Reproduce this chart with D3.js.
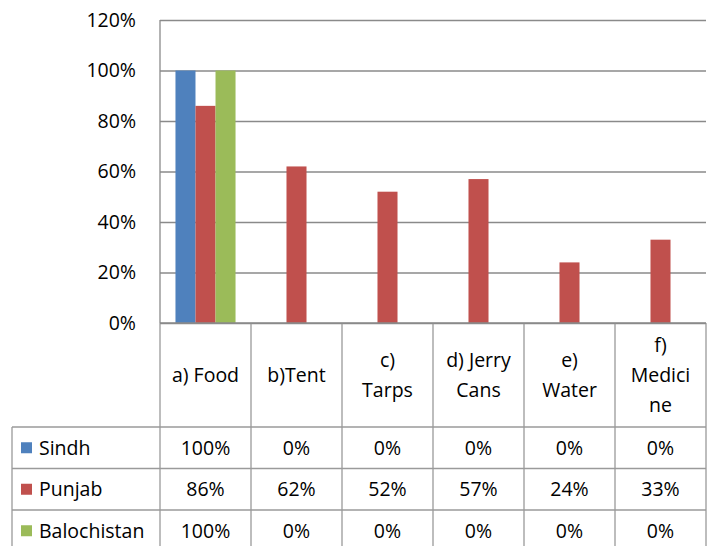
<!DOCTYPE html>
<html>
<head>
<meta charset="utf-8">
<script src="https://cdn.jsdelivr.net/npm/d3@7"></script>
<style>
  body { margin: 0; background: #fff; }
  svg { display: block; font-family: "Open Sans", Lato, sans-serif; }
</style>
</head>
<body>
<div id="chart"></div>
<script>
// データ
var categories = [ "a) Food", "b)Tent", "c) Tarps", "d) Jerry Cans", "e) Water", "f) Medicine" ];
var headerLines = [ [ "a) Food" ], [ "b)Tent" ], [ "c)", "Tarps" ], [ "d) Jerry", "Cans" ], [ "e)", "Water" ], [ "f)", "Medici", "ne" ] ];
var seriesNames = [ "Sindh", "Punjab", "Balochistan" ];
var sindh = [ 1.00, 0, 0, 0, 0, 0 ];
var punjab = [ 0.86, 0.62, 0.52, 0.57, 0.24, 0.33 ];
var balochistan = [ 1.00, 0, 0, 0, 0, 0 ];
var seriesColors = [ "#4F81BD", "#C0504D", "#9BBB59" ];
var yTicks = [ 0, 0.2, 0.4, 0.6, 0.8, 1.0, 1.2 ];

var seriesValues = [ sindh, punjab, balochistan ];

var width = 714, height = 546;
var plot = { left: 160, right: 706, top: 20, bottom: 323 };
var table = { left: 12, headerBottom: 427, rowH: 41.5 };
var fontSize = "19.5px";

var svg = d3.select( "#chart" ).append( "svg" )
  .attr( "width", width )
  .attr( "height", height );

var x = d3.scaleBand().domain( categories ).range( [ plot.left, plot.right ] ).padding( 0 );
var xSub = d3.scaleBand().domain( seriesNames )
  .range( [ x.bandwidth() * 0.17, x.bandwidth() * 0.83 ] ).padding( 0 );
var y = d3.scaleLinear().domain( [ 0, 1.2 ] ).range( [ plot.bottom, plot.top ] );
var pct = d3.format( ".0%" );

drawGrid();
drawBars();
drawTable();

function drawGrid() {
  // 目盛り線
  var yAxis = d3.axisLeft( y )
    .tickValues( yTicks )
    .tickFormat( pct )
    .tickSize( -( plot.right - plot.left ) )
    .tickPadding( 24 );
  var g = svg.append( "g" )
    .attr( "transform", "translate(" + plot.left + ",0)" )
    .call( yAxis );
  g.select( ".domain" ).remove();
  g.selectAll( ".tick line" )
    .attr( "stroke", "#8a8a8a" )
    .attr( "stroke-width", 1.3 );
  g.selectAll( ".tick text" )
    .attr( "fill", "#000" )
    .attr( "font-size", fontSize )
    .attr( "font-family", "'Open Sans', sans-serif" );

  // 縦軸
  svg.append( "line" )
    .attr( "x1", plot.left ).attr( "x2", plot.left )
    .attr( "y1", plot.top ).attr( "y2", plot.bottom )
    .attr( "stroke", "#8a8a8a" )
    .attr( "stroke-width", 1.3 );
}

function drawBars() {
  seriesNames.forEach( function ( name, si ) {
    svg.append( "g" )
      .selectAll( "rect" )
      .data( seriesValues[ si ] )
      .enter()
      .append( "rect" )
      .attr( "x", function ( d, i ) {
        return x( categories[ i ] ) + xSub( name );
      } )
      .attr( "y", function ( d ) {
        return y( d );
      } )
      .attr( "width", xSub.bandwidth() )
      .attr( "height", function ( d ) {
        return y( 0 ) - y( d );
      } )
      .attr( "fill", seriesColors[ si ] );
  } );
}

function drawTable() {
  var lineColor = "#9a9a9a";
  var bottom = height + 2;

  // 縦線（カテゴリ境界）
  var bounds = categories.map( function ( c ) {
    return x( c );
  } );
  bounds.push( plot.right );
  svg.append( "g" )
    .selectAll( "line" )
    .data( bounds )
    .enter()
    .append( "line" )
    .attr( "x1", function ( d ) { return d; } )
    .attr( "x2", function ( d ) { return d; } )
    .attr( "y1", plot.bottom )
    .attr( "y2", bottom )
    .attr( "stroke", lineColor )
    .attr( "stroke-width", 1.3 );

  // 左端
  svg.append( "line" )
    .attr( "x1", table.left ).attr( "x2", table.left )
    .attr( "y1", table.headerBottom ).attr( "y2", bottom )
    .attr( "stroke", lineColor )
    .attr( "stroke-width", 1.3 );

  // 横線
  var rowLines = seriesNames.map( function ( s, i ) {
    return table.headerBottom + i * table.rowH;
  } );
  svg.append( "g" )
    .selectAll( "line" )
    .data( rowLines )
    .enter()
    .append( "line" )
    .attr( "x1", table.left )
    .attr( "x2", plot.right )
    .attr( "y1", function ( d ) { return d; } )
    .attr( "y2", function ( d ) { return d; } )
    .attr( "stroke", lineColor )
    .attr( "stroke-width", 1.3 );

  // 0%ライン
  svg.append( "line" )
    .attr( "x1", plot.left ).attr( "x2", plot.right )
    .attr( "y1", y( 0 ) ).attr( "y2", y( 0 ) )
    .attr( "stroke", "#8a8a8a" )
    .attr( "stroke-width", 1.3 );

  // 見出し
  var lineH = 30;
  var headMid = ( plot.bottom + table.headerBottom ) / 2;
  headerLines.forEach( function ( lines, i ) {
    var cx = x( categories[ i ] ) + x.bandwidth() / 2;
    var startY = headMid - ( lines.length - 1 ) * lineH / 2;
    svg.append( "text" )
      .attr( "text-anchor", "middle" )
      .attr( "font-size", fontSize )
      .attr( "fill", "#000" )
      .selectAll( "tspan" )
      .data( lines )
      .enter()
      .append( "tspan" )
      .attr( "x", cx )
      .attr( "y", function ( d, j ) {
        return startY + j * lineH;
      } )
      .attr( "dy", "0.35em" )
      .text( function ( d ) { return d; } );
  } );

  // 凡例と値
  seriesNames.forEach( function ( name, si ) {
    var cy = table.headerBottom + si * table.rowH + table.rowH / 2;
    svg.append( "rect" )
      .attr( "x", 21 )
      .attr( "y", cy - 5.5 )
      .attr( "width", 11 )
      .attr( "height", 11 )
      .attr( "fill", seriesColors[ si ] );
    svg.append( "text" )
      .attr( "x", 39 )
      .attr( "y", cy )
      .attr( "dy", "0.35em" )
      .attr( "font-size", fontSize )
      .attr( "fill", "#000" )
      .text( name );
    svg.append( "g" )
      .selectAll( "text" )
      .data( seriesValues[ si ] )
      .enter()
      .append( "text" )
      .attr( "x", function ( d, i ) {
        return x( categories[ i ] ) + x.bandwidth() / 2;
      } )
      .attr( "y", cy )
      .attr( "dy", "0.35em" )
      .attr( "text-anchor", "middle" )
      .attr( "font-size", fontSize )
      .attr( "fill", "#000" )
      .text( function ( d ) { return pct( d ); } );
  } );
}
</script>
</body>
</html>
